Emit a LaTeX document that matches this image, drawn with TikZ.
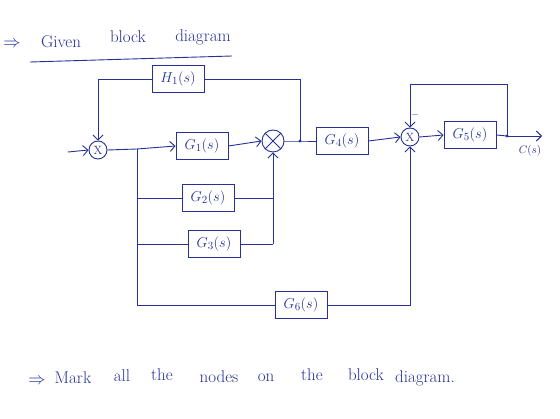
\documentclass[tikz,border=0pt]{standalone}
\usetikzlibrary{arrows.meta}
\definecolor{ink}{RGB}{38,48,150}
\tikzset{
  blk/.style={draw, minimum width=52pt, minimum height=27pt, inner sep=2pt, font=\fontsize{15}{17}\selectfont},
  sumj/.style={draw, circle, minimum size=18pt, inner sep=0pt, font=\fontsize{12}{14}\selectfont},
  tapdot/.style={circle, fill, inner sep=1.1pt},
  hand/.style={font=\fontsize{17}{19}\selectfont}
}
\begin{document}
\begin{tikzpicture}[x=1pt, y=-1pt, color=ink, line width=0.9pt, >={Straight Barb[length=5pt]}]
        \useasboundingbox (0,0) rectangle (560,419);

        % Title
        \node[hand] (tarrow) at (12,44) {$\Rightarrow$};
        \node[hand] (tgiven) at (61,42) {Given};
        \node[hand] (tblock) at (128,37) {block};
        \node[hand] (tdiag) at (203,37) {diagram};
        \draw (30,62) -- (232,56);

        % Blocks
        \node[sumj] (s1) at (98,150) {X};
        \node[blk] (h1) at (178,79) {$H_1(s)$};
        \node[blk] (g1) at (202,146) {$G_1(s)$};
        \node[draw, circle, minimum size=22pt, inner sep=0pt] (s2) at (273,141) {};
        \draw (s2.north west) -- (s2.south east);
        \draw (s2.north east) -- (s2.south west);
        \node[blk] (g4) at (342,141) {$G_4(s)$};
        \node[sumj] (s3) at (410,137) {X};
        \node[blk] (g5) at (470,135) {$G_5(s)$};
        \node[blk] (g2) at (208,198) {$G_2(s)$};
        \node[blk] (g3) at (214,244) {$G_3(s)$};
        \node[blk] (g6) at (301,305) {$G_6(s)$};

        % Points
        \coordinate (in) at (68,152);
        \coordinate (b1) at (137,149);
        \coordinate (b2) at (300,141);
        \coordinate (b3) at (507,136);
        \coordinate (t3) at (507,84);
        \coordinate (out) at (542,136);
        \node[tapdot] at (b2) {};
        \node[tapdot] at (b3) {};

        % Forward path
        \draw[->] (in) -- (s1.west);
        \draw (s1.east) -- (b1);
        \draw[->] (b1) -- (g1.west);
        \draw[->] (g1.east) -- (s2.west);
        \draw (s2.east) -- (b2) -- (g4.west);
        \draw[->] (g4.east) -- (s3.west);
        \draw[->] (s3.east) -- (g5.west);
        \draw (g5.east) -- (b3);
        \draw[->] (b3) -- (out);
        \node[font=\fontsize{11}{13}\selectfont] (cs) at (530,151) {$C(s)$};

        % H1 loop
        \draw (b2) |- (h1.east);
        \draw[->] (h1.west) -| (s1.north);

        % Parallel branches G2, G3
        \draw (b1) -- (b1 |- g6.west) -- (g6.west);
        \draw (b1 |- g2.west) -- (g2.west);
        \draw (b1 |- g3.west) -- (g3.west);
        \draw (g2.east) -- (s2 |- g2.east);
        \draw (g3.east) -- (s2 |- g3.east);
        \draw[->] (s2 |- g3.east) -- (s2.south);

        % G6 and G5 loops
        \draw[->] (g6.east) -| (s3.south);
        \draw[->] (b3) -- (t3) -| (s3.north);
        \node[font=\fontsize{10}{12}\selectfont] (minus) at (415,115) {$-$};

        % Question
        \foreach \w/\x/\y [count=\i] in {{$\Rightarrow$}/37/381, Mark/73/378, all/122/376, the/162/375, nodes/219/377, on/266/378, the/312/375, block/366/375, diagram./425/378}
          \node[hand] (q\i) at (\x,\y) {\w};
\end{tikzpicture}
\end{document}
